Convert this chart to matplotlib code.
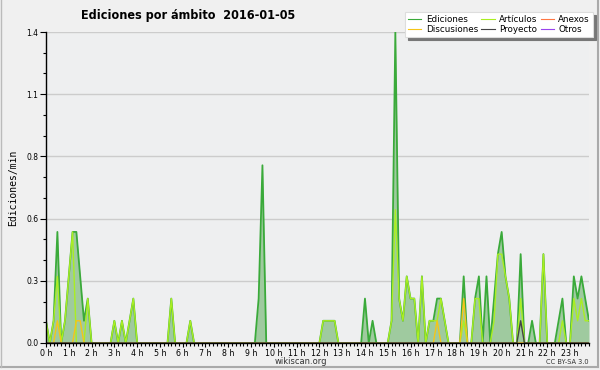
import numpy as np
import matplotlib
matplotlib.use("Agg")
import matplotlib.pyplot as plt
from matplotlib.ticker import FixedLocator, MultipleLocator
from matplotlib.lines import Line2D

# ---------------- data (edits per minute, 10-minute bins) ----------------
ediciones = [
    0.1, 0, 0.1, 0.5, 0, 0.1, 0.3, 0.5, 0.5, 0.3, 0.1, 0.2,          # 0h-2h
    0, 0, 0, 0, 0, 0, 0.1, 0, 0.1, 0, 0.1, 0.2,                      # 2h-4h
    0, 0, 0, 0, 0, 0, 0, 0, 0, 0.2, 0, 0,                            # 4h-6h
    0, 0, 0.1, 0, 0, 0, 0, 0, 0, 0, 0, 0,                            # 6h-8h
    0, 0, 0, 0, 0, 0, 0, 0, 0.2, 0.8, 0, 0,                          # 8h-10h
    0, 0, 0, 0, 0, 0, 0, 0, 0, 0, 0, 0,                              # 10h-12h
    0, 0.1, 0.1, 0.1, 0.1, 0, 0, 0, 0, 0, 0, 0,                      # 12h-14h
    0.2, 0, 0.1, 0, 0, 0, 0, 0.1, 1.4, 0.2, 0.1, 0.3,                # 14h-16h
    0.2, 0.2, 0, 0.3, 0, 0.1, 0.1, 0.2, 0.2, 0.1, 0, 0,              # 16h-18h
    0, 0, 0.3, 0, 0, 0.2, 0.3, 0, 0.3, 0, 0.2, 0.4,                  # 18h-20h
    0.5, 0.3, 0.2, 0, 0, 0.4, 0, 0, 0.1, 0, 0, 0.4,                  # 20h-22h
    0, 0, 0, 0.1, 0.2, 0, 0, 0.3, 0.2, 0.3, 0.2, 0.1,                # 22h-24h
]
articulos = [
    0.1, 0, 0.1, 0.3, 0, 0.1, 0.3, 0.5, 0, 0, 0, 0.2,
    0, 0, 0, 0, 0, 0, 0.1, 0, 0.1, 0, 0.1, 0.2,
    0, 0, 0, 0, 0, 0, 0, 0, 0, 0.2, 0, 0,
    0, 0, 0.1, 0, 0, 0, 0, 0, 0, 0, 0, 0,
    0, 0, 0, 0, 0, 0, 0, 0, 0, 0, 0, 0,
    0, 0, 0, 0, 0, 0, 0, 0, 0, 0, 0, 0,
    0, 0.1, 0.1, 0.1, 0.1, 0, 0, 0, 0, 0, 0, 0,
    0, 0, 0, 0, 0, 0, 0, 0.1, 0.6, 0.2, 0.1, 0.3,
    0.2, 0.2, 0, 0.3, 0, 0.1, 0.1, 0.1, 0.2, 0.1, 0, 0,
    0, 0, 0.1, 0, 0, 0.2, 0.2, 0, 0, 0, 0.1, 0.4,
    0.4, 0.3, 0.2, 0, 0, 0.2, 0, 0, 0, 0, 0, 0.4,
    0, 0, 0, 0, 0.1, 0, 0, 0.2, 0.1, 0.2, 0.1, 0.1,
]
discusiones = [0.0] * 144
for _i, _v in [(3, 0.1), (8, 0.1), (9, 0.1), (103, 0.1), (110, 0.2)]:
    discusiones[_i] = _v
proyecto = [0.0] * 144
proyecto[125] = 0.1
anexos = [0.0] * 144
otros = [0.0] * 144

y_ticks = [0.0, 0.28, 0.56, 0.84, 1.12, 1.4]
y_tick_labels = ["0.0", "0.3", "0.6", "0.8", "1.1", "1.4"]
hour_labels = [f"{h} h" for h in range(24)]

title = "Ediciones por ámbito  2016-01-05"

# ---------------- figure ----------------
W, H = 600, 370
fig = plt.figure(figsize=(W / 100, H / 100), dpi=100, facecolor="#f0f0f0")
ax = fig.add_axes([46 / W, 1 - 343 / H, (589 - 46) / W, (343 - 32) / H])
ax.set_facecolor("#eeeff0")

x = np.arange(len(ediciones)) / 6.0

ax.fill_between(x, 0, ediciones, color="#9fca9f", lw=0, zorder=1)
ax.plot(x, otros, color="#9944ee", lw=1, zorder=2)
ax.plot(x, anexos, color="#ff7744", lw=1, zorder=2)
ax.plot(x, ediciones, color="#3aaa3a", lw=1.3, zorder=3)
ax.plot(x, articulos, color="#aaee22", lw=1.0, zorder=4)
ax.plot(x, discusiones, color="#f5c518", lw=1.0, zorder=5)
ax.plot(x, proyecto, color="#444444", lw=1.0, zorder=6)

ax.set_xlim(0, x[-1])
ax.set_ylim(0, 1.4)

for s in ["top", "right"]:
    ax.spines[s].set_visible(False)
for s in ["left", "bottom"]:
    ax.spines[s].set_color("black")
    ax.spines[s].set_linewidth(1)
    ax.spines[s].set_zorder(10)

ax.yaxis.set_major_locator(FixedLocator(y_ticks))
ax.set_yticklabels(y_tick_labels, fontsize=5.5, family="DejaVu Sans")
ax.yaxis.set_minor_locator(MultipleLocator(0.28 / 3))
ax.tick_params(axis="y", which="major", length=4, width=0.8, pad=1.5)
ax.tick_params(axis="y", which="minor", length=2.5, width=0.8)

ax.set_xticks(np.arange(24))
ax.set_xticklabels(hour_labels, fontsize=5.7, family="DejaVu Sans")
ax.xaxis.set_minor_locator(MultipleLocator(1 / 6))
ax.tick_params(axis="x", which="major", length=3, width=0.8, pad=1)
ax.tick_params(axis="x", which="minor", length=2.5, width=0.8)

ax.grid(axis="y", which="major", color="#cccccc", lw=1, zorder=0)
ax.set_axisbelow(True)

fig.text(13 / W, 1 - 188 / H, "Ediciones/min", rotation=90, ha="center",
         va="center", fontsize=7, family="DejaVu Sans Mono")

fig.text(188 / W, 1 - 15 / H, title, ha="center", va="center",
         fontsize=9, fontweight="bold", family="DejaVu Sans",
         fontstretch="condensed")

fig.text(301 / W, 1 - 361 / H, "wikiscan.org", ha="center", va="center",
         fontsize=6, family="DejaVu Sans", color="#333333")
fig.text(589 / W, 1 - 362 / H, "CC BY-SA 3.0", ha="right", va="center",
         fontsize=4.8, family="DejaVu Sans", color="#333333")

# legend
names = ["Ediciones", "Discusiones", "Artículos", "Proyecto", "Anexos", "Otros"]
colors = ["#3aaa3a", "#f5c518", "#aaee22", "#444444", "#ff7744", "#9944ee"]
handles = [Line2D([], [], color=c, lw=0.8) for c in colors]
leg = fig.legend(handles, names, ncol=3, loc="upper right",
                 bbox_to_anchor=(593 / W, 1 - 12 / H),
                 fontsize=6.3, frameon=True, fancybox=False,
                 shadow={"ox": 2, "oy": -2, "color": "#777777", "alpha": 1},
                 borderpad=0.35, labelspacing=0.1, handlelength=1.5,
                 handletextpad=0.5, columnspacing=0.4, borderaxespad=0)
leg.get_frame().set_edgecolor("#dddddd")
leg.get_frame().set_linewidth(0.8)
leg.get_frame().set_facecolor("white")

# outer border
fig.add_artist(plt.Line2D([597.5 / W, 597.5 / W], [1 - 367 / H, 1], color="#aaaaaa", lw=1.5,
                          transform=fig.transFigure))
fig.add_artist(plt.Line2D([0, 598 / W], [1 - 366.5 / H, 1 - 366.5 / H], color="#aaaaaa", lw=1.5,
                          transform=fig.transFigure))
fig.add_artist(plt.Line2D([0.5 / W, 0.5 / W], [1 - 367 / H, 1], color="#bbbbbb", lw=1,
                          transform=fig.transFigure))

fig.savefig("out.png", dpi=100, facecolor=fig.get_facecolor())
